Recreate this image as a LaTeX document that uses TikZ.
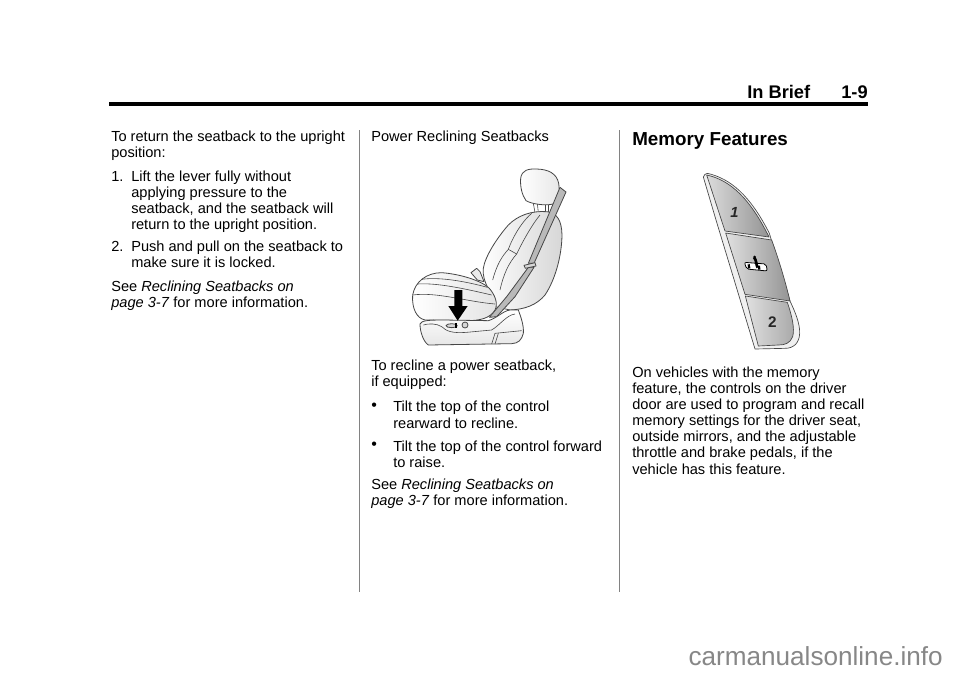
\documentclass[tikz,border=0pt]{standalone}
\usepackage{fontspec}
\setmainfont{Liberation Sans}
\usepackage{xcolor}
\definecolor{seatline}{RGB}{70, 70, 70}
\definecolor{seatshade}{RGB}{215, 215, 215}
\definecolor{beltgray}{RGB}{185, 185, 185}
\definecolor{columnrule}{RGB}{130, 130, 130}
\definecolor{markgray}{RGB}{135, 135, 135}
\tikzset{
    body text/.style={
        anchor=north west,
        inner sep=0pt,
        align=left,
        font=\fontsize{10.95}{12.1}\selectfont
    },
    bullet mark/.style={
        anchor=base west,
        inner sep=0pt,
        font=\fontsize{12}{12.1}\selectfont
    },
    page head/.style={
        anchor=base west,
        inner sep=0pt,
        font=\fontsize{13.7}{16}\selectfont\bfseries
    },
    column rule/.style={
        draw=columnrule,
        line width=0.75pt
    },
    seat part/.style={
        draw=seatline,
        line width=0.6pt,
        line join=round,
        fill=white
    },
    seat crease/.style={
        draw=seatline,
        line width=0.45pt
    },
    button part/.style={
        draw=seatline,
        line width=0.5pt,
        line join=round
    },
    button digit/.style={
        inner sep=0pt,
        text=black!85,
        font=\fontsize{11}{12}\selectfont\bfseries\itshape
    }
}
\begin{document}
\begin{tikzpicture}[x=0.75pt, y=-0.75pt]
\useasboundingbox (0, 0) rectangle (960, 672);
\fill[white] (0, 0) rectangle (960, 672);

% Page header
\node[page head] (brief) at (747, 98) {In Brief};
\node[page head, anchor=base east] (pagenum) at (868, 98) {1-9};
\draw[line width=2.3pt] (109, 104) -- (868, 104);

% Column rules
\draw[column rule] (359, 130) -- (359, 592);
\draw[column rule] (619, 130) -- (619, 592);

% Left column
\node[body text] (upright) at (111, 129.7) {\strut To return the seatback to the upright\\position:};
\node[body text] (one) at (111, 169.7) {\strut 1.};
\node[body text] (lift) at (131, 169.7) {\strut Lift the lever fully without\\applying pressure to the\\seatback, and the seatback will\\return to the upright position.};
\node[body text] (two) at (111, 239.8) {\strut 2.};
\node[body text] (push) at (131, 239.8) {\strut Push and pull on the seatback to\\make sure it is locked.};
\node[body text] (seeone) at (111, 279.8) {\strut See \textit{Reclining Seatbacks on}\\\textit{page 3-7} for more information.};

% Middle column
\node[body text] (power) at (371, 129.7) {\strut Power Reclining Seatbacks};
\node[body text] (recline) at (371, 358.7) {\strut To recline a power seatback,\\if equipped:};
\node[bullet mark] (dotone) at (371, 410.5) {•};
\node[body text] (rearward) at (393, 400.4) {\strut Tilt the top of the control\\rearward to recline.};
\node[bullet mark] (dottwo) at (371, 449.5) {•};
\node[body text] (forward) at (393, 439.7) {\strut Tilt the top of the control forward\\to raise.};
\node[body text] (seetwo) at (371, 477.7) {\strut See \textit{Reclining Seatbacks on}\\\textit{page 3-7} for more information.};

% Right column
\node[page head, font=\fontsize{14.1}{16}\selectfont\bfseries] (memory) at (632, 145) {Memory Features};
\node[body text] (vehicles) at (632, 365.7) {\strut On vehicles with the memory\\feature, the controls on the driver\\door are used to program and recall\\memory settings for the driver seat,\\outside mirrors, and the adjustable\\throttle and brake pedals, if the\\vehicle has this feature.};

% Seat
\begin{scope}[shift={(400, 160)}, x=0.25pt, y=-0.25pt]
    % head rest and posts
    \draw[seat crease] (400, 130) -- (405, 158);
    \draw[seat crease] (412, 130) -- (415, 158);
    \draw[seat crease] (435, 135) -- (435, 158);
    \draw[seat crease] (445, 135) -- (445, 158);
    \draw[seat part, left color=white, right color=seatshade!60]
        (362, 55) .. controls (365, 30) and (385, 26) .. (410, 27)
        .. controls (445, 28) and (470, 40) .. (476, 70)
        .. controls (480, 100) and (478, 125) .. (460, 132)
        .. controls (435, 138) and (395, 132) .. (378, 122)
        .. controls (366, 105) and (360, 80) .. (362, 55) -- cycle;
    % back
    \draw[seat part, left color=white, right color=seatshade]
        (250, 325) .. controls (255, 290) and (290, 235) .. (325, 195)
        .. controls (355, 165) and (395, 152) .. (440, 155)
        .. controls (470, 158) and (485, 180) .. (486, 225)
        .. controls (485, 290) and (465, 360) .. (435, 405)
        .. controls (410, 435) and (375, 448) .. (330, 450)
        -- (285, 440) .. controls (280, 400) and (245, 370) .. (250, 325) -- cycle;
    \draw[seat crease] (395, 160) .. controls (360, 190) and (335, 240) .. (325, 268);
    \draw[seat crease] (325, 268) -- (350, 282);
    \draw[seat crease] (325, 268) .. controls (305, 290) and (290, 315) .. (278, 360);
    \draw[seat crease] (350, 282) .. controls (325, 310) and (310, 345) .. (300, 390);
    \draw[seat crease] (420, 165) .. controls (395, 195) and (365, 250) .. (350, 282);
    % buckle
    \draw[seat part, fill=seatshade!50] (213, 338) -- (230, 325) -- (240, 335) -- (252, 365) -- (232, 360) -- cycle;
    % belt
    \draw[seat part, fill=beltgray] (480, 82) -- (498, 96) -- (402, 310) -- (385, 310) -- cycle;
    \draw[seat part, fill=beltgray] (385, 322) -- (402, 322) -- (345, 410) -- (290, 470) -- (268, 472) -- (320, 410) -- cycle;
    \draw[seat part, fill=seatshade] (372, 316) -- (405, 308) -- (408, 318) -- (376, 325) -- cycle;
    % cushion
    \draw[seat part, left color=white, right color=seatshade!70]
        (38, 405) .. controls (45, 365) and (80, 338) .. (125, 338)
        .. controls (180, 342) and (245, 362) .. (268, 385)
        .. controls (285, 405) and (295, 430) .. (285, 450)
        .. controls (270, 475) and (240, 482) .. (200, 482)
        -- (75, 480) .. controls (50, 475) and (35, 445) .. (38, 405) -- cycle;
    \draw[seat crease] (65, 358) .. controls (120, 350) and (200, 365) .. (262, 382);
    \draw[seat crease] (52, 372) .. controls (110, 368) and (190, 385) .. (275, 405);
    \draw[seat crease] (38, 405) .. controls (110, 395) and (200, 425) .. (285, 432);
    % base
    \draw[seat part, bottom color=seatshade!60, top color=white]
        (60, 492) .. controls (65, 482) and (80, 480) .. (130, 480)
        -- (265, 482) .. controls (290, 475) and (310, 452) .. (330, 450)
        -- (355, 450) .. controls (362, 470) and (372, 495) .. (370, 520)
        .. controls (365, 540) and (355, 550) .. (335, 551)
        -- (85, 555) .. controls (70, 545) and (60, 515) .. (60, 492) -- cycle;
    \draw[seat crease] (70, 495) .. controls (85, 490) and (110, 490) .. (125, 500)
        .. controls (140, 515) and (160, 520) .. (200, 517)
        -- (275, 510) .. controls (300, 495) and (320, 465) .. (345, 462);
    \draw[seat crease] (275, 552) -- (285, 520) -- (365, 512);
    \draw[seat crease] (295, 520) -- (285, 552);
    % controls on the base
    \draw[seat part, fill=seatshade] (155, 497) ellipse [x radius=17, y radius=6];
    \fill (165, 488) rectangle (172, 505);
    \draw[seat part, fill=seatshade] (195, 495) circle [radius=9];
    % arrow
    \fill (163, 390) -- (187, 390) -- (187, 438) -- (203, 438) -- (173, 482) -- (145, 438) -- (163, 438) -- cycle;
\end{scope}

% Memory buttons
\begin{scope}[shift={(690, 165)}, x=0.25pt, y=-0.25pt]
    \draw[button part, fill=black!6]
        (40, 36) .. controls (42, 30) and (46, 26) .. (52, 25)
        .. controls (120, 40) and (180, 90) .. (238, 205)
        -- (300, 408) .. controls (315, 440) and (330, 475) .. (329, 505)
        .. controls (328, 535) and (310, 550) .. (285, 550)
        -- (195, 552) -- (128, 330) -- (78, 165) -- cycle;
    \draw[button part, shading angle=60, left color=black!14, right color=black!42]
        (50, 30) .. controls (120, 45) and (180, 100) .. (237, 216)
        -- (105, 198) -- cycle;
    \draw[button part, shading angle=70, left color=black!12, right color=black!42]
        (107, 204) -- (245, 225) .. controls (265, 280) and (285, 345) .. (300, 408)
        -- (165, 388) -- cycle;
    \draw[button part, left color=black!12, right color=black!34]
        (166, 393) -- (292, 412) .. controls (305, 450) and (315, 490) .. (308, 515)
        .. controls (300, 535) and (285, 540) .. (265, 540)
        -- (205, 543) -- cycle;
    \node[button digit] (digitone) at (133, 141) {1};
    \node[button digit, font=\fontsize{11.5}{12}\selectfont\bfseries] (digittwo) at (247, 470) {2};
    % seat symbol
    \draw[line width=0.6pt, rounded corners=1.5pt, fill=white] (163, 292) -- (228, 297) -- (232, 318) -- (170, 312) -- cycle;
    \draw[line width=2pt] (192, 277) .. controls (200, 285) and (198, 300) .. (203, 308);
    \draw[line width=1.6pt] (176, 298) -- (178, 310);
    \draw[line width=1.6pt] (207, 302) -- (208, 314);
    \fill (194, 276) circle [radius=4.5];
\end{scope}

% Watermark
\node[anchor=base east, inner sep=0pt, text=markgray, font=\fontsize{19.6}{22}\selectfont] (site) at (943, 665) {carmanualsonline.info};

\end{tikzpicture}
\end{document}
